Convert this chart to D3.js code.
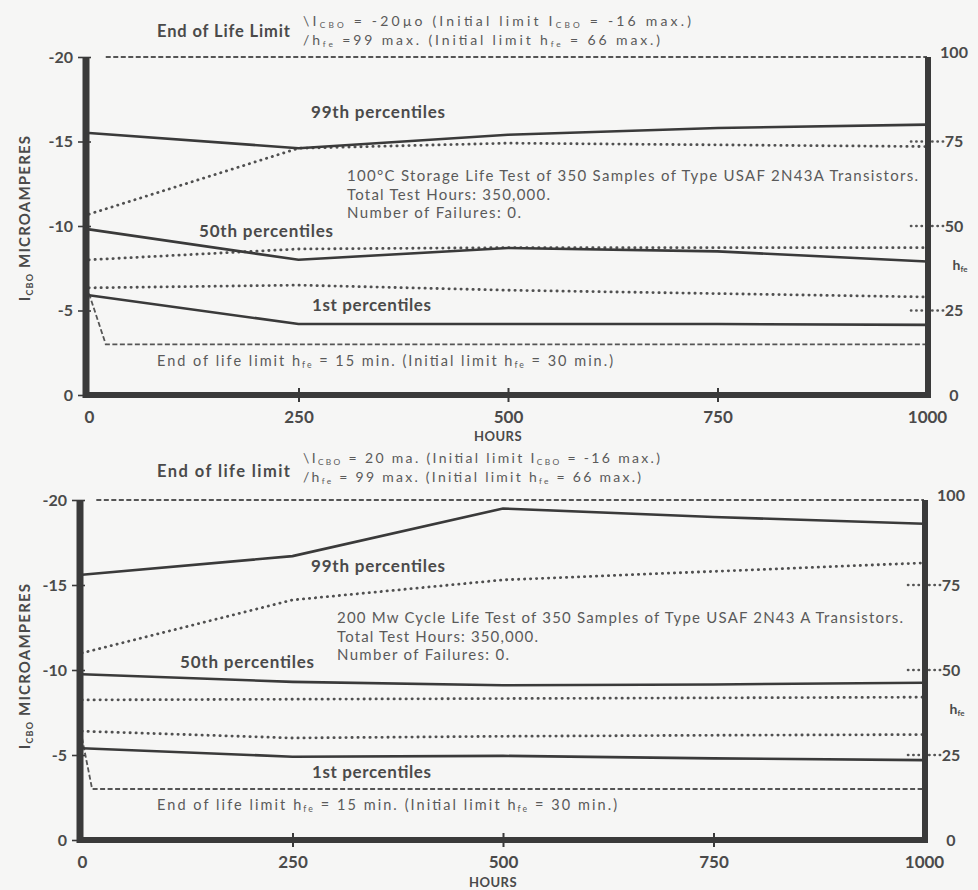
<!DOCTYPE html>
<html><head><meta charset="utf-8">
<script src="https://cdn.jsdelivr.net/npm/d3@7"></script>
<style>
body{margin:0;background:#f6f6f5}
svg{display:block}
text{font-family:Lato,"Open Sans",sans-serif}
</style>
</head><body>
<svg id="c" width="978" height="890"></svg>
<script>
// ---------- data ----------
const hours = [0, 250, 500, 750, 1000];
const xTicks = [0, 250, 500, 750, 1000];
const yTicksLeft = [-20, -15, -10, -5, 0];
const yTicksRight = [100, 75, 50, 25, 0];
const rightDottedTicks = [75, 50, 25];

// Panel 1: 100°C storage life test  (I_CBO in µA, h_fe on right scale)
const storageIcbo99 = [-15.5, -14.6, -15.4, -15.8, -16.0];
const storageHfe99  = [53.5, 73, 74.5, 74, 73.5];
const storageIcbo50 = [-9.8, -8.0, -8.7, -8.5, -7.9];
const storageHfe50  = [40, 43.2, 43.6, 43.6, 43.6];
const storageIcbo1  = [-5.9, -4.2, -4.2, -4.2, -4.15];
const storageHfe1   = [31.7, 32.5, 31, 30, 29];
const storageUpperHours = [20, 1000];
const storageUpperLimit = [-20, -20];
const storageLowerHours = [0, 20, 1000];
const storageLowerLimit = [30, 15, 15];

// Panel 2: 200 mW cycle life test
const cycleIcbo99 = [-15.6, -16.7, -19.5, -19.0, -18.6];
const cycleHfe99  = [55, 70.6, 76.5, 79, 81.5];
const cycleIcbo50 = [-9.75, -9.3, -9.1, -9.15, -9.25];
const cycleHfe50  = [41.2, 41.4, 41.6, 41.8, 42];
const cycleIcbo1  = [-5.4, -4.9, -4.95, -4.8, -4.7];
const cycleHfe1   = [32, 30, 30.5, 30.8, 31];
const cycleUpperHours = [17, 1000];
const cycleUpperLimit = [-20, -20];
const cycleLowerHours = [0, 12, 1000];
const cycleLowerLimit = [30, 15, 15];

// texts
const storageTitle = ["100°C Storage Life Test of 350 Samples of Type USAF 2N43A Transistors.",
                      "Total Test Hours: 350,000.", "Number of Failures: 0."];
const cycleTitle = ["200 Mw Cycle Life Test of 350 Samples of Type USAF 2N43 A Transistors.",
                    "Total Test Hours: 350,000.", "Number of Failures: 0."];

// ---------- drawing ----------
const svg = d3.select("#c");
const INK = "#3a3a3a", TXT = "#5a5a5a", LBL = "#4a4a4a";

function rich(g, x, y, parts, size, len) {
  const t = g.append("text").attr("x", x).attr("y", y)
    .attr("font-size", size).attr("fill", TXT);
  if (len) t.attr("textLength", len).attr("lengthAdjust", "spacing");
  let shifted = false;
  parts.forEach(p => {
    const isSub = Array.isArray(p);
    const s = t.append("tspan").text(isSub ? p[0] : p);
    if (isSub) { s.attr("font-size", size * 0.6); if (!shifted) { s.attr("dy", 2); shifted = true; } }
    else if (shifted) { s.attr("dy", -2); shifted = false; }
  });
  return t;
}

function drawPanel(p) {
  const g = svg.append("g");
  const x = d3.scaleLinear().domain([0, 1000]).range([p.x0, p.x1]);
  const y = d3.scaleLinear().domain([0, -20]).range([p.yb, p.yt]);
  const h = d3.scaleLinear().domain([0, 100]).range([p.yb, p.yt]);

  const lineY = d3.line().x(d => x(d[0])).y(d => y(d[1]));
  const lineH = d3.line().x(d => x(d[0])).y(d => h(d[1]));
  const zip = (a, b) => a.map((v, i) => [v, b[i]]);

  // limits
  g.append("path").attr("d", lineY(zip(p.upperHours, p.upperLimit)))
    .attr("fill", "none").attr("stroke", "#555").attr("stroke-width", 1.8).attr("stroke-dasharray", "5 2.5");
  g.append("path").attr("d", lineH(zip(p.lowerHours, p.lowerLimit)))
    .attr("fill", "none").attr("stroke", "#555").attr("stroke-width", 1.8).attr("stroke-dasharray", "5 2.5");

  // h_fe dotted
  [p.hfe99, p.hfe50, p.hfe1].forEach(s => {
    g.append("path").attr("d", lineH(zip(hours, s)))
      .attr("fill", "none").attr("stroke", "#505050").attr("stroke-width", 2.8)
      .attr("stroke-linecap", "round").attr("stroke-dasharray", "0.3 5.7");
  });
  // I_CBO solid
  [p.icbo99, p.icbo50, p.icbo1].forEach(s => {
    g.append("path").attr("d", lineY(zip(hours, s)))
      .attr("fill", "none").attr("stroke", INK).attr("stroke-width", 2.6);
  });

  // right dotted ticks
  g.selectAll(".rt").data(rightDottedTicks).join("line")
    .attr("x1", p.x1 - 16).attr("x2", p.x1 + 17)
    .attr("y1", d => h(d)).attr("y2", d => h(d))
    .attr("stroke", "#555").attr("stroke-width", 2.6)
    .attr("stroke-linecap", "round").attr("stroke-dasharray", "0.3 5");

  // left axis
  const la = g.append("g").attr("transform", `translate(${p.axL},0)`)
    .call(d3.axisLeft(y).tickValues(yTicksLeft).tickSize(8).tickSizeOuter(0).tickPadding(5).tickFormat(d => String(d)));
  la.select(".domain").attr("stroke", INK).attr("stroke-width", 7)
    .attr("d", `M0,${p.yt}V${p.yb + 3}`);
  la.selectAll(".tick line").attr("stroke", INK).attr("stroke-width", 1.6).attr("x2", 5).attr("x1", -8);
  la.selectAll(".tick text").attr("font-size", 16).attr("font-weight", 700).attr("fill", LBL)
    .attr("font-family", "Lato, sans-serif");

  // right axis
  const ra = g.append("g").attr("transform", `translate(${p.x1 + 1},0)`)
    .call(d3.axisRight(h).tickValues(yTicksRight).tickSize(0).tickSizeOuter(0).tickPadding(26).tickFormat(d => String(d)));
  ra.select(".domain").attr("stroke", INK).attr("stroke-width", 6)
    .attr("d", `M0,${p.yt}V${p.yb + 3}`);
  ra.selectAll(".tick text").attr("text-anchor", "middle").attr("font-size", 16).attr("font-weight", 700)
    .attr("fill", LBL).attr("font-family", "Lato, sans-serif")
    .attr("dy", d => d === 100 ? "0" : "0.32em");

  // bottom axis
  const ba = g.append("g").attr("transform", `translate(0,${p.yb})`)
    .call(d3.axisBottom(x).tickValues(xTicks).tickSize(6).tickSizeOuter(0).tickPadding(10).tickFormat(d => String(d)));
  ba.select(".domain").attr("stroke", INK).attr("stroke-width", 6)
    .attr("d", `M${p.axL - 3},0H${p.x1 + 4}`);
  ba.selectAll(".tick line").attr("stroke", INK).attr("stroke-width", 2).attr("y1", -7).attr("y2", 7)
    .attr("opacity", d => (d === 0 || d === 1000) ? 0 : 1);
  ba.selectAll(".tick text").attr("font-size", 17).attr("font-weight", 700).attr("fill", LBL)
    .attr("font-family", "Lato, sans-serif");
  g.append("text").attr("x", x(500) - 10).attr("y", p.yb + p.hoursDy).attr("text-anchor", "middle")
    .attr("font-size", 13).attr("font-weight", 700).attr("fill", LBL).attr("letter-spacing", 0.5).text("HOURS");

  // y-axis title
  const yt = g.append("text").attr("transform", `translate(30,${p.ytitle}) rotate(-90)`)
    .attr("text-anchor", "middle").attr("font-size", 15).attr("font-weight", 700).attr("fill", LBL)
    .attr("letter-spacing", 1.2);
  yt.append("tspan").text("I");
  yt.append("tspan").text("CBO").attr("font-size", 9).attr("dy", 3);
  yt.append("tspan").text(" MICROAMPERES").attr("dy", -3);

  g.append("text").attr("x", p.x1 + 33).attr("y", h(37)).attr("text-anchor", "middle")
    .attr("font-size", 14).attr("font-weight", 700).attr("fill", LBL)
    .call(t => { t.append("tspan").text("h"); t.append("tspan").text("fe").attr("font-size", 8).attr("dy", 2); });

  // annotations
  const a = p.ann;
  g.append("text").attr("x", 157).attr("y", a.eol).attr("font-size", 16.5).attr("font-weight", 700)
    .attr("fill", LBL).attr("textLength", 133).attr("lengthAdjust", "spacing").text(p.eolLabel);
  rich(g, 303, a.l1, p.line1, 14, a.l1w);
  rich(g, 303, a.l2, p.line2, 14, a.l2w);
  g.append("text").attr("x", 311).attr("y", a.p99).attr("font-size", 17).attr("font-weight", 700)
    .attr("fill", LBL).attr("textLength", 134).attr("lengthAdjust", "spacing").text("99th percentiles");
  g.append("text").attr("x", a.p50x).attr("y", a.p50).attr("font-size", 17).attr("font-weight", 700)
    .attr("fill", LBL).attr("textLength", 134).attr("lengthAdjust", "spacing").text("50th percentiles");
  g.append("text").attr("x", 312).attr("y", a.p1).attr("font-size", 17).attr("font-weight", 700)
    .attr("fill", LBL).attr("textLength", 119).attr("lengthAdjust", "spacing").text("1st percentiles");
  p.title.forEach((s, i) => {
    g.append("text").attr("x", a.tx).attr("y", a.t + i * 18.5).attr("font-size", 15)
      .attr("fill", TXT).attr("textLength", a.tw[i]).attr("lengthAdjust", "spacing").text(s);
  });
  rich(g, 157, a.low, ["End of life limit h", ["fe"], " = 15 min. (Initial limit h", ["fe"], " =  30 min.)"], 14.5, a.loww);
}

drawPanel({
  x0: 89, x1: 927, axL: 86, yt: 57, yb: 395, ytitle: 218, hoursDy: 46,
  upperHours: storageUpperHours, upperLimit: storageUpperLimit,
  lowerHours: storageLowerHours, lowerLimit: storageLowerLimit,
  icbo99: storageIcbo99, hfe99: storageHfe99, icbo50: storageIcbo50, hfe50: storageHfe50,
  icbo1: storageIcbo1, hfe1: storageHfe1,
  eolLabel: "End of Life Limit",
  line1: ["\\I", ["CBO"], " =  -20μo (Initial limit I", ["CBO"], " =    -16 max.)"],
  line2: ["/h", ["fe"], "  =99 max. (Initial limit h", ["fe"], " = 66 max.)"],
  title: storageTitle,
  ann: { eol: 37, l1: 26, l2: 45, l1w: 388, l2w: 357, p99: 118, p50: 237, p50x: 199, p1: 311,
         tx: 347, t: 181, tw: [571, 203, 174], low: 366, loww: 456 }
});

drawPanel({
  x0: 82, x1: 924, axL: 80, yt: 500, yb: 840, ytitle: 666, hoursDy: 47,
  upperHours: cycleUpperHours, upperLimit: cycleUpperLimit,
  lowerHours: cycleLowerHours, lowerLimit: cycleLowerLimit,
  icbo99: cycleIcbo99, hfe99: cycleHfe99, icbo50: cycleIcbo50, hfe50: cycleHfe50,
  icbo1: cycleIcbo1, hfe1: cycleHfe1,
  eolLabel: "End of life limit",
  line1: ["\\I", ["CBO"], " = 20 ma. (Initial limit I", ["CBO"], " =    -16 max.)"],
  line2: ["/h", ["fe"], " = 99 max. (Initial limit h", ["fe"], " = 66 max.)"],
  title: cycleTitle,
  ann: { eol: 477, l1: 463, l2: 482, l1w: 357, l2w: 338, p99: 572, p50: 668, p50x: 180, p1: 778,
         tx: 337, t: 623, tw: [566, 201, 172], low: 810, loww: 460 }
});
</script>
</body></html>
